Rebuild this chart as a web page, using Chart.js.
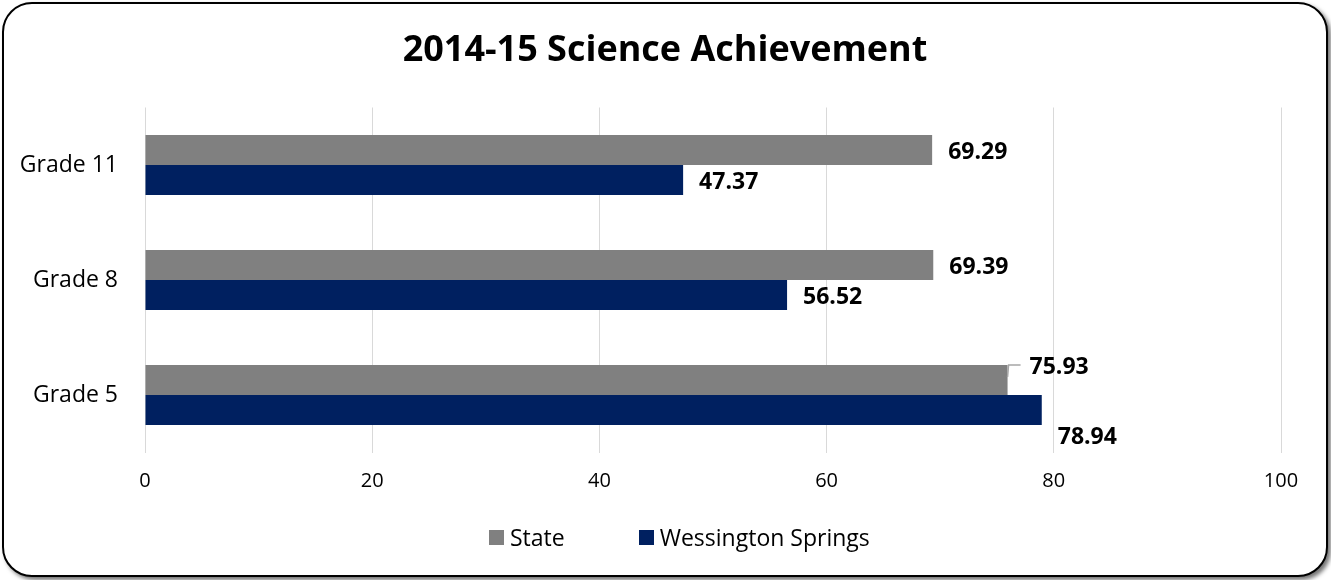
<!DOCTYPE html>
<html>
<head>
<meta charset="utf-8">
<script src="https://cdn.jsdelivr.net/npm/chart.js@4.4.1/dist/chart.umd.min.js"></script>
<style>
    html, body { margin: 0; padding: 0; background: #fff; }
    #moldura {
        position: absolute;
        left: 2px; top: 2px;
        width: 1322px; height: 571px;
        border: 2px solid #000;
        border-radius: 30px;
        box-shadow: 3px 3px 4px rgba(0, 0, 0, 0.55);
        background: #fff;
        overflow: hidden;
    }
    #legenda {
        position: absolute;
        left: 485px; top: 517px;
        display: flex;
        align-items: center;
        font-family: 'Open Sans', 'Noto Sans', sans-serif;
        font-size: 23px;
        color: #000;
    }
    #legenda .item { display: flex; align-items: center; margin-right: 74px; }
    #legenda .caixa { width: 15px; height: 15px; margin-right: 6px; }
</style>
</head>
<body>
<div id="moldura">
    <canvas id="grafico"></canvas>
    <div id="legenda"></div>
</div>
<script>
const categorias = ['Grade 11', 'Grade 8', 'Grade 5'];
const valoresState = [69.29, 69.39, 75.93];
const valoresEscola = [47.37, 56.52, 78.94];
const ticksX = [0, 20, 40, 60, 80, 100];

const fonte = "'Open Sans', 'Noto Sans', sans-serif";

// deslocamento manual de alguns rotulos (como no original)
const ajustesRotulo = {
    '0-2': { dx: 22, dy: -13, guia: true },
    '1-2': { dx: 16, dy: 27 }
};

const rotulosBarras = {
    id: 'rotulosBarras',
    afterDatasetsDraw(chart) {
        const ctx = chart.ctx;
        ctx.save();
        ctx.font = 'bold 23px ' + fonte;
        ctx.fillStyle = '#000';
        ctx.textAlign = 'left';
        ctx.textBaseline = 'middle';
        chart.data.datasets.forEach((ds, i) => {
            chart.getDatasetMeta(i).data.forEach((barra, j) => {
                const aj = ajustesRotulo[i + '-' + j] || { dx: 16, dy: 2 };
                const x = barra.x + aj.dx;
                const y = barra.y + aj.dy;
                if (aj.guia) {
                    ctx.strokeStyle = '#a6a6a6';
                    ctx.lineWidth = 1.5;
                    ctx.beginPath();
                    ctx.moveTo(barra.x, barra.y - 3);
                    ctx.lineTo(barra.x + 1, y - 2);
                    ctx.lineTo(x - 9, y - 2);
                    ctx.stroke();
                }
                ctx.fillText(ds.data[j].toFixed(2), x, y);
            });
        });
        ctx.restore();
    }
};

// o titulo fica centrado no quadro todo, nao so na area com padding
const tituloCentrado = {
    id: 'tituloCentrado',
    afterLayout(chart) {
        if (!chart.titleBlock) return;
        chart.titleBlock.left = 0;
        chart.titleBlock.right = chart.width;
    }
};

const grafico = new Chart(document.getElementById('grafico'), {
    type: 'bar',
    data: {
        labels: categorias,
        datasets: [
            { label: 'State', data: valoresState, backgroundColor: '#808080' },
            { label: 'Wessington Springs', data: valoresEscola, backgroundColor: '#002060' }
        ]
    },
    options: {
        indexAxis: 'y',
        responsive: true,
        maintainAspectRatio: false,
        animation: false,
        categoryPercentage: 0.522,
        barPercentage: 1,
        layout: { padding: { left: 0, right: 45, top: 0, bottom: 77.5 } },
        plugins: {
            title: {
                display: true,
                text: '2014-15 Science Achievement',
                color: '#000',
                font: { family: fonte, size: 36, weight: 'bold' },
                padding: { top: 25, bottom: 35.3 }
            },
            legend: { display: false },
            tooltip: { enabled: false }
        },
        scales: {
            x: {
                min: 0,
                max: 100,
                afterBuildTicks: (eixo) => { eixo.ticks = ticksX.map(v => ({ value: v })); },
                afterFit: (eixo) => { eixo.height = 45; },
                grid: { color: '#d9d9d9', lineWidth: 1, drawTicks: false },
                border: { display: false },
                ticks: { padding: 17, color: '#000', font: { family: fonte, size: 20 } }
            },
            y: {
                afterFit: (eixo) => { eixo.width = 141; },
                grid: { display: false, drawTicks: false },
                border: { display: false },
                ticks: { padding: 27, color: '#000', font: { family: fonte, size: 23 } }
            }
        }
    },
    plugins: [rotulosBarras, tituloCentrado]
});

// legenda em html, com as cores dos datasets
const legenda = document.getElementById('legenda');
grafico.data.datasets.forEach(ds => {
    const item = document.createElement('div');
    item.className = 'item';
    item.innerHTML = `<span class="caixa" style="background:${ds.backgroundColor}"></span><span>${ds.label}</span>`;
    legenda.appendChild(item);
});
</script>
</body>
</html>
